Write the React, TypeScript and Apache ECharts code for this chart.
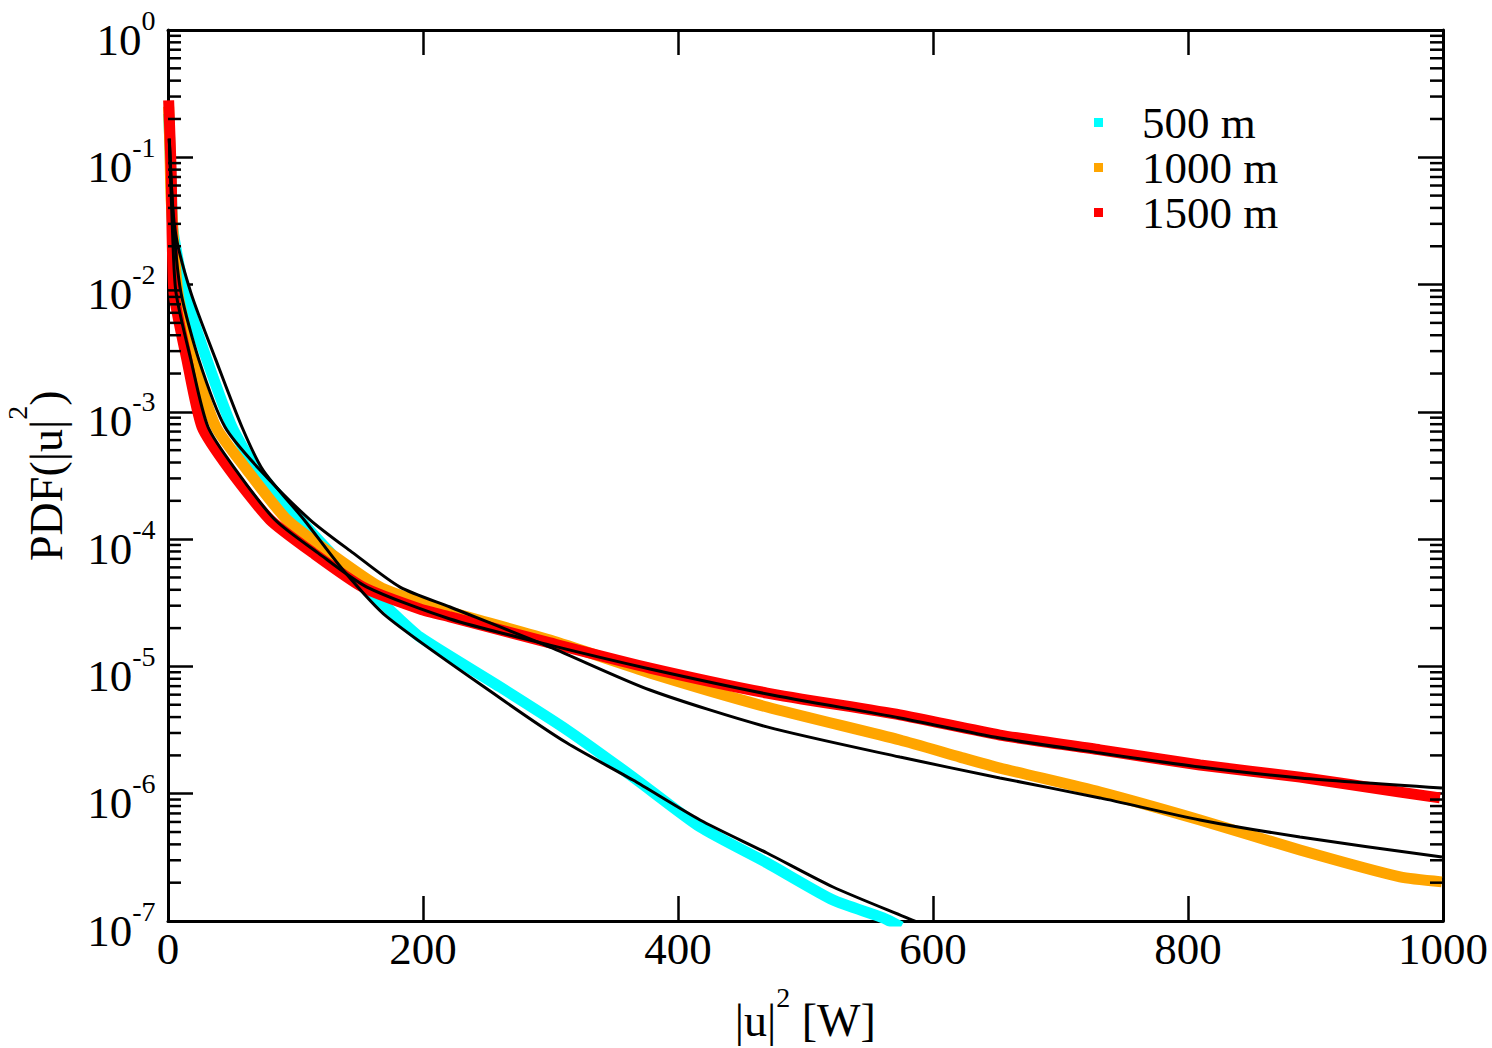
import React, { useEffect, useRef } from "react";
import * as echarts from "echarts";

const FONT = "'Liberation Serif', 'Times New Roman', serif";

// x-axis ticks
const xTickValues = [0, 200, 400, 600, 800, 1000];
// y decades (exponents)
const yDecades = [-7, -6, -5, -4, -3, -2, -1, 0];
const minorMultipliers = [2, 3, 4, 5, 6, 7, 8, 9];

// 500 m data
const x500 = [0.5, 1.5, 2.5, 3.9, 13.3, 30.6, 50.2, 69.8, 103.5, 140.4, 176.5, 197.6, 260.4, 313.0, 364.7, 417.3, 469.8, 521.6, 560.8, 575];
const y500 = [0.22, 0.125, 0.061, 0.027, 8.6e-3, 2.55e-3, 7.6e-4, 3.49e-4, 1.42e-4, 5.73e-5, 2.63e-5, 1.7e-5, 6.9e-6, 3.17e-6, 1.35e-6, 5.48e-7, 2.86e-7, 1.46e-7, 1.06e-7, 9.0e-8];

// 1000 m data
const x1000 = [0.5, 1.5, 2.5, 7.8, 19.6, 37.6, 62.0, 93.3, 127.0, 166.3, 197.6, 221.2, 299.6, 378.0, 469.8, 574.1, 621.2, 652.5, 731.0, 809.4, 887.8, 966.3, 999.0];
const y1000 = [0.25, 0.115, 0.046, 8.6e-3, 2.55e-3, 7.6e-4, 3.49e-4, 1.42e-4, 7.8e-5, 4.2e-5, 3.2e-5, 2.68e-5, 1.61e-5, 8.9e-6, 4.8e-6, 2.64e-6, 1.94e-6, 1.59e-6, 1.03e-6, 6.22e-7, 3.61e-7, 2.22e-7, 2.03e-7];

// 1500 m data
const x1500 = [0.5, 1.5, 2.5, 4.7, 14.9, 26.7, 48.6, 80.0, 113.7, 152.9, 197.6, 221.2, 299.6, 378.0, 469.8, 574.1, 652.5, 731.0, 809.4, 887.8, 966.3, 997.6];
const y1500 = [0.28, 0.15, 0.075, 8.6e-3, 2.55e-3, 7.6e-4, 3.49e-4, 1.42e-4, 7.8e-5, 4.2e-5, 2.83e-5, 2.45e-5, 1.53e-5, 9.7e-6, 6.18e-6, 4.16e-6, 2.89e-6, 2.21e-6, 1.68e-6, 1.35e-6, 1.03e-6, 9.27e-7];

// fits
const xFit500 = [1.0, 5.5, 18.0, 37.6, 58.0, 74.5, 106.7, 137.3, 171.8, 260.4, 313.0, 364.7, 417.3, 469.8, 521.6, 587.5, 595];
const yFit500 = [0.14, 0.0268, 8.6e-3, 2.55e-3, 7.6e-4, 3.49e-4, 1.42e-4, 5.73e-5, 2.45e-5, 5.65e-6, 2.5e-6, 1.28e-6, 6.22e-7, 3.42e-7, 1.85e-7, 9.8e-8, 9.0e-8];

const xFit1000 = [1.0, 4.7, 10.2, 24.3, 44.7, 72.2, 111.4, 145.1, 182.0, 221.2, 299.6, 378.0, 469.8, 574.1, 652.5, 731.0, 809.4, 887.8, 999.2];
const yFit1000 = [0.14, 0.0268, 8.6e-3, 2.55e-3, 7.6e-4, 3.49e-4, 1.42e-4, 7.8e-5, 4.2e-5, 2.93e-5, 1.42e-5, 6.53e-6, 3.35e-6, 1.94e-6, 1.33e-6, 9.27e-7, 6.22e-7, 4.57e-7, 3.18e-7];

const xFit1500 = [1.0, 3.5, 6.3, 18.0, 31.4, 53.3, 83.9, 117.6, 156.0, 221.2, 299.6, 378.0, 469.8, 574.1, 652.5, 731.0, 809.4, 887.8, 999.2];
const yFit1500 = [0.14, 0.0268, 8.6e-3, 2.55e-3, 7.6e-4, 3.49e-4, 1.42e-4, 7.8e-5, 4.2e-5, 2.36e-5, 1.47e-5, 9.55e-6, 6.08e-6, 3.94e-6, 2.74e-6, 2.09e-6, 1.62e-6, 1.33e-6, 1.11e-6];

const legendNames = ["500 m", "1000 m", "1500 m"];
const colors = ["#00FFFF", "#FFA500", "#FF0000"];

const pairs = (xs: number[], ys: number[]) => xs.map((x, i) => [x, ys[i]]);

const minorTickValues: number[] = [];
yDecades.slice(0, -1).forEach((d) => {
  minorMultipliers.forEach((m) => minorTickValues.push(m * Math.pow(10, d)));
});

const richLabel = {
  b: { fontFamily: FONT, fontSize: 45, lineHeight: 44, verticalAlign: "bottom", color: "#000" },
  s: { fontFamily: FONT, fontSize: 28, lineHeight: 28, verticalAlign: "top", color: "#000" },
  z: { fontFamily: FONT, fontSize: 2, lineHeight: 56 },
};

function buildOption(): any {
  const xMin = xTickValues[0];
  const xMax = xTickValues[xTickValues.length - 1];
  const yMin = Math.pow(10, yDecades[0]);
  const yMax = Math.pow(10, yDecades[yDecades.length - 1]);
  const tickStyle = { color: "#000", width: 2.5 };
  const axisLine = { show: true, onZero: false, lineStyle: { color: "#000", width: 3 } };

  const dataSeries = [
    pairs(x500, y500),
    pairs(x1000, y1000),
    pairs(x1500, y1500),
  ].map((d, i) => ({
    type: "line",
    name: legendNames[i],
    data: d,
    showSymbol: false,
    symbol: "none",
    smooth: 0.2,
    color: colors[i],
    lineStyle: { color: colors[i], width: 11, join: "round", cap: "butt" },
    z: 2,
    clip: true,
  }));

  const fitSeries = [
    pairs(xFit500, yFit500),
    pairs(xFit1000, yFit1000),
    pairs(xFit1500, yFit1500),
  ].map((d, i) => ({
    type: "line",
    name: "fit " + legendNames[i],
    data: d,
    showSymbol: false,
    symbol: "none",
    smooth: 0.25,
    lineStyle: { color: "#000", width: 3 },
    z: 3,
    clip: true,
  }));

  return {
    animation: false,
    backgroundColor: "#fff",
    grid: { left: 168, top: 30, width: 1275, height: 891, containLabel: false, outerBoundsMode: "none" },
    legend: {
      data: legendNames,
      orient: "vertical",
      left: 1094,
      top: 100,
      padding: 0,
      itemGap: 0,
      icon: "rect",
      itemWidth: 9,
      itemHeight: 9,
      selectedMode: false,
      textStyle: { fontFamily: FONT, fontSize: 45, color: "#000", lineHeight: 45, padding: [0, 0, 0, 34] },
    },
    xAxis: [
      {
        type: "value",
        min: xMin,
        max: xMax,
        interval: 200,
        position: "bottom",
        axisLine,
        axisTick: { show: true, inside: true, length: 25, lineStyle: tickStyle },
        splitLine: { show: false },
        axisLabel: {
          fontFamily: FONT,
          fontSize: 45,
          color: "#000",
          margin: 5,
          showMinLabel: true,
          showMaxLabel: true,
          formatter: (v: number) => String(v),
        },
        name: "{b||u|}{s|2}{b| [W]}{z| }",
        nameLocation: "middle",
        nameGap: 62,
        nameTextStyle: {
          rich: {
            b: { fontFamily: FONT, fontSize: 46, lineHeight: 44, verticalAlign: "bottom", color: "#000" },
            s: { fontFamily: FONT, fontSize: 28, lineHeight: 28, verticalAlign: "top", color: "#000" },
            z: { fontFamily: FONT, fontSize: 2, lineHeight: 60 },
          },
        },
      },
      {
        type: "value",
        min: xMin,
        max: xMax,
        interval: 200,
        position: "top",
        axisLine,
        axisTick: { show: true, inside: true, length: 25, lineStyle: tickStyle },
        splitLine: { show: false },
        axisLabel: { show: false },
      },
    ],
    yAxis: [
      {
        type: "log",
        logBase: 10,
        min: yMin,
        max: yMax,
        splitNumber: 7,
        position: "left",
        axisLine,
        axisTick: { show: true, inside: true, length: 25, lineStyle: tickStyle },
        minorTick: { show: false },
        splitLine: { show: false },
        axisLabel: {
          margin: 12,
          padding: [8, 0, 0, 0],
          showMinLabel: true,
          showMaxLabel: true,
          formatter: (v: number) => `{b|10}{s|${Math.round(Math.log10(v))}}{z| }`,
          rich: richLabel,
        },
        name: "{b|PDF(|u|}{s|2}{b|)}{z| }",
        nameLocation: "middle",
        nameGap: 99,
        nameTextStyle: {
          rich: {
            b: { fontFamily: FONT, fontSize: 46, lineHeight: 44, verticalAlign: "bottom", color: "#000" },
            s: { fontFamily: FONT, fontSize: 28, lineHeight: 28, verticalAlign: "top", color: "#000" },
            z: { fontFamily: FONT, fontSize: 2, lineHeight: 66 },
          },
        },
      },
      {
        type: "log",
        logBase: 10,
        min: yMin,
        max: yMax,
        splitNumber: 7,
        position: "right",
        axisLine,
        axisTick: { show: true, inside: true, length: 25, lineStyle: tickStyle },
        splitLine: { show: false },
        axisLabel: { show: false },
      },
    ],
    series: [
      ...dataSeries,
      ...fitSeries,
      {
        type: "custom",
        name: "minorTicks",
        xAxisIndex: 0,
        yAxisIndex: 0,
        silent: true,
        clip: false,
        z: 5,
        data: minorTickValues.map((v) => [xMin, v]),
        renderItem: (params: any, api: any) => {
          const v = api.value(1);
          const pL = api.coord([xMin, v]);
          const pR = api.coord([xMax, v]);
          const st = { stroke: "#000", lineWidth: 2.5 };
          return {
            type: "group",
            children: [
              { type: "line", shape: { x1: pL[0], y1: pL[1], x2: pL[0] + 13, y2: pL[1] }, style: st },
              { type: "line", shape: { x1: pR[0] - 13, y1: pR[1], x2: pR[0], y2: pR[1] }, style: st },
            ],
          };
        },
      },
    ],
  };
}

export default function App() {
  const ref = useRef<HTMLDivElement>(null);
  useEffect(() => {
    if (!ref.current) return;
    const chart = echarts.init(ref.current, null, { renderer: "svg" });
    chart.setOption(buildOption());
    return () => chart.dispose();
  }, []);
  return (
    <div
      ref={ref}
      style={{ position: "absolute", left: 0, top: 0, width: 1492, height: 1048, background: "#fff" }}
    />
  );
}
